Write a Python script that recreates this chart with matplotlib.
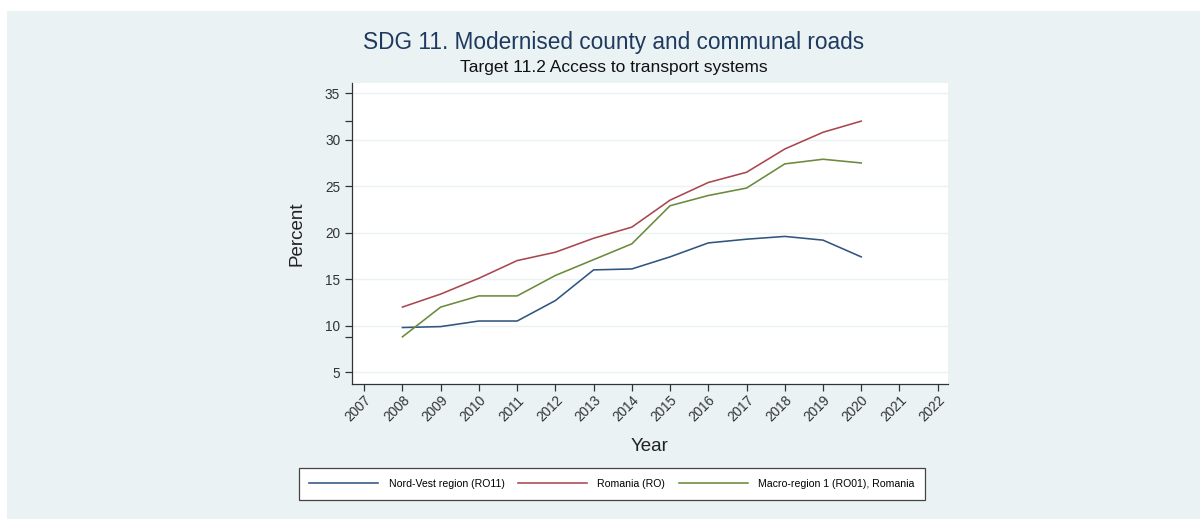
import matplotlib
matplotlib.use('Agg')
import matplotlib.pyplot as plt
from matplotlib.patches import Rectangle
import numpy as np

plt.rcParams['font.family'] = ['Liberation Sans', 'DejaVu Sans']

years = [2008, 2009, 2010, 2011, 2012, 2013, 2014, 2015, 2016, 2017, 2018, 2019, 2020]
nord_vest = [9.8, 9.9, 10.5, 10.5, 12.7, 16.0, 16.1, 17.4, 18.9, 19.3, 19.6, 19.2, 17.4]
romania = [12.0, 13.4, 15.1, 17.0, 17.9, 19.4, 20.6, 23.5, 25.4, 26.5, 29.0, 30.8, 32.0]
macro_region = [8.8, 12.0, 13.2, 13.2, 15.4, 17.1, 18.8, 22.9, 24.0, 24.8, 27.4, 27.9, 27.5]
year_ticks = list(range(2007, 2023))
y_ticks = [5, 10, 15, 20, 25, 30, 35]

bg = '#eaf2f3'
fig = plt.figure(figsize=(12, 5.19), dpi=100)
fig.patch.set_facecolor('white')
fig.patches.append(Rectangle((7 / 1200, 0), 1, 1 - 11 / 519, transform=fig.transFigure,
                             facecolor=bg, edgecolor='none', zorder=-10))

ax = fig.add_axes([352 / 1200, 1 - 383.5 / 519, 596 / 1200, 300.5 / 519])
ax.set_facecolor('white')

ax.plot(years, nord_vest, color='#30557f', lw=1.15, label='Nord-Vest region (RO11)')
ax.plot(years, romania, color='#a9474f', lw=1.15, label='Romania (RO)')
ax.plot(years, macro_region, color='#6a8a3c', lw=1.15, label='Macro-region 1 (RO01), Romania')

ax.set_xlim(2006.68, 2022.27)
ax.set_ylim(3.78, 36.1)
ax.set_xticks(year_ticks)
ax.set_xticklabels([str(y) for y in year_ticks], rotation=45, ha='right',
                   rotation_mode='anchor', fontsize=9.8, color='#333333')
ax.set_yticks(y_ticks)
ax.set_yticklabels([str(v) for v in y_ticks], fontsize=9.8, color='#333333')
# extra ticks at the data range ends
all_vals = nord_vest + romania + macro_region
ax.set_yticks([min(all_vals), max(all_vals)], minor=True)
ax.tick_params(axis='both', which='both', direction='out', length=5, width=0.9, color='#333333')
ax.tick_params(axis='x', pad=2)

ax.grid(axis='y', color=bg, lw=1.0)
ax.set_axisbelow(True)
for s in ['top', 'right']:
    ax.spines[s].set_visible(False)
for s in ['left', 'bottom']:
    ax.spines[s].set_color('#333333')
    ax.spines[s].set_linewidth(0.9)

ax.set_ylabel('Percent', fontsize=13.5, color='#222222', labelpad=14)
ax.set_xlabel('Year', fontsize=13.5, color='#222222', labelpad=10)

fig.text(614 / 1200, 1 - 42 / 519, 'SDG 11. Modernised county and communal roads',
         ha='center', va='center', fontsize=16.3, color='#1f3a5f')
fig.text(614 / 1200, 1 - 67 / 519, 'Target 11.2 Access to transport systems',
         ha='center', va='center', fontsize=12.5, color='#111111')

leg = fig.legend(loc='center', bbox_to_anchor=(612 / 1200, 1 - 484 / 519), ncol=3,
                 fontsize=7.6, handlelength=6.5, handletextpad=1.0, columnspacing=1.3,
                 borderpad=1.0, fancybox=False, framealpha=1, edgecolor='#444444')
leg.get_frame().set_linewidth(0.9)

fig.savefig('out.png', dpi=100, facecolor=fig.get_facecolor())
